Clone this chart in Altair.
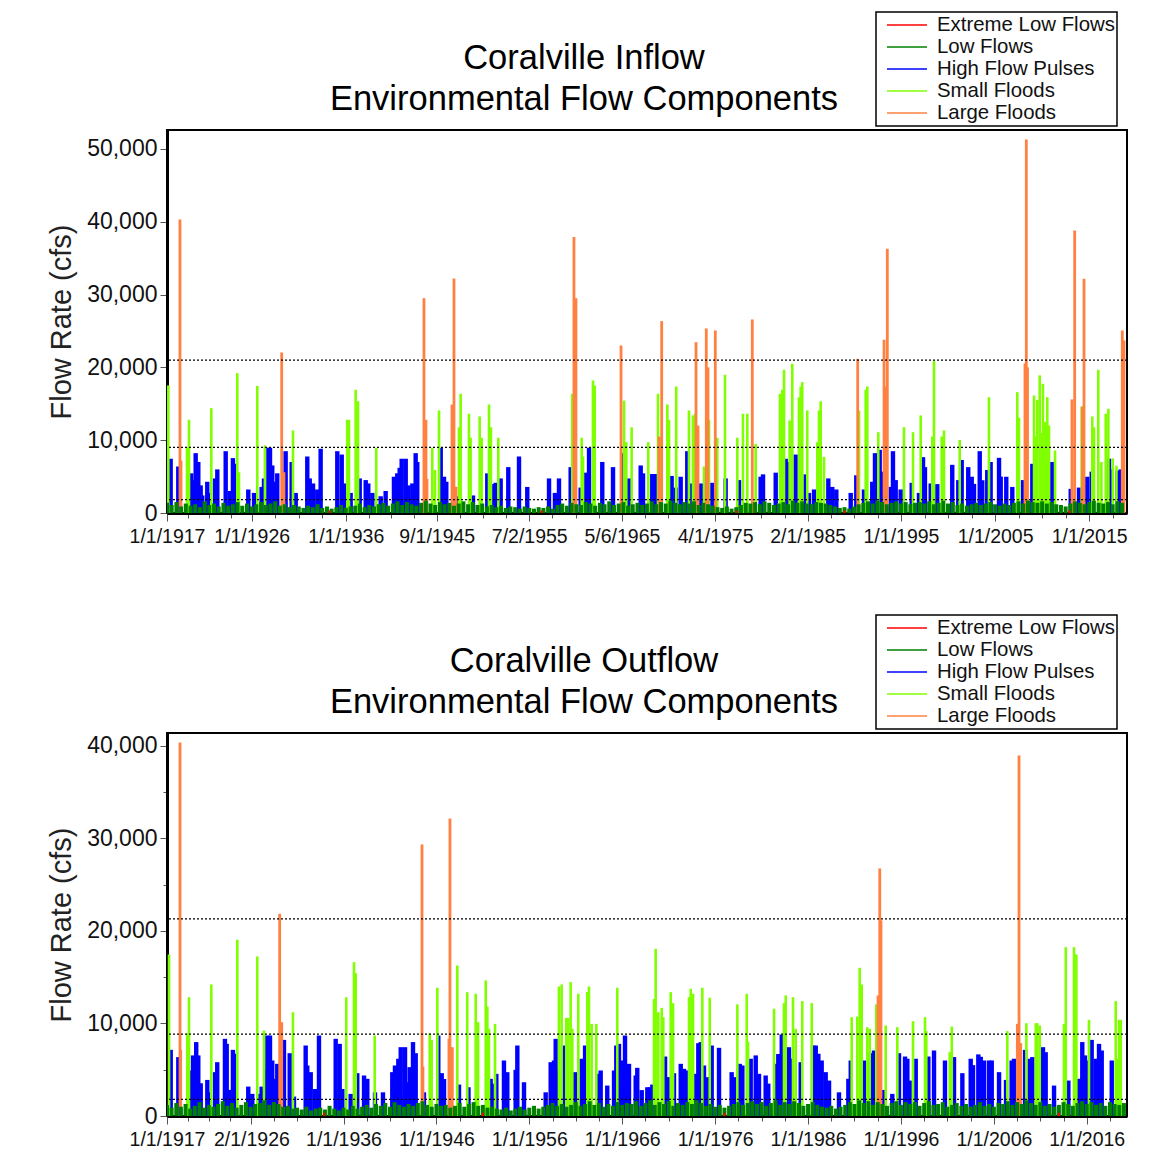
import altair as alt
import pandas as pd
from datetime import datetime, timezone

FONT = "Liberation Sans"
CATS = ["Extreme Low Flows", "Low Flows", "High Flow Pulses", "Small Floods", "Large Floods"]
COLORS = ["#FF0000", "#008000", "#0000FF", "#80FF00", "#FF8040"]

# ------------------------- Coralville Inflow -------------------------
IN_LARGE = [(1918.38, 40300), (1918.49, 7200), (1929.19, 22050), (1929.43, 5600), (1944.31, 29500),
            (1944.52, 12800), (1944.63, 4700), (1947.29, 14900), (1947.50, 32200), (1947.71, 3600),
            (1960.25, 37900), (1960.46, 29500), (1965.25, 23000), (1969.28, 10500), (1969.57, 26350),
            (1973.22, 23460), (1973.43, 12000), (1974.31, 25350), (1974.49, 20000), (1975.27, 25070),
            (1979.20, 26580), (1990.40, 21180), (1993.20, 23800), (1993.41, 17400), (1993.55, 36290),
            (2008.18, 20530), (2008.32, 51300), (2008.45, 20000), (2013.17, 15600), (2013.46, 38800),
            (2014.27, 14600), (2014.45, 32170), (2018.52, 25070), (2018.70, 23700)]
IN_SMALL = [(1917.14, 17520), (1919.13, 9000), (1919.34, 12800), (1921.71, 14400), (1924.47, 19210),
            (1924.65, 5600), (1926.60, 17450), (1927.41, 9275), (1930.39, 11340), (1936.16, 12800),
            (1936.34, 12800), (1937.05, 16920), (1937.30, 15350), (1939.24, 8960), (1945.19, 8960),
            (1945.48, 5900), (1945.91, 14080), (1948.03, 11780), (1948.21, 16370), (1949.09, 13630),
            (1949.27, 10330), (1950.23, 13260), (1950.44, 10330), (1951.22, 14900), (1951.43, 11780),
            (1952.21, 10330), (1960.07, 16370), (1961.07, 10330), (1961.21, 7760), (1962.27, 18200),
            (1962.45, 17520), (1965.57, 15440), (1965.81, 9730), (1966.38, 11780), (1968.15, 9730),
            (1969.18, 16370), (1969.39, 10420), (1970.17, 14900), (1970.35, 12800), (1971.12, 17370),
            (1972.47, 14080), (1972.90, 13400), (1973.11, 13630), (1974.07, 6390), (1974.60, 12800),
            (1975.48, 10330), (1976.30, 18990), (1977.61, 10330), (1978.21, 13630), (1978.67, 13630),
            (1979.56, 9500), (1982.14, 16370), (1982.39, 16920), (1982.57, 19670), (1983.17, 12700),
            (1983.45, 20500), (1984.16, 15900), (1984.34, 17370), (1984.51, 17970), (1985.04, 14080),
            (1986.11, 9730), (1986.29, 14080), (1986.47, 15350), (1986.82, 7700), (1990.54, 14080),
            (1991.25, 16920), (1991.42, 17370), (1992.59, 11100), (1995.32, 11780), (1996.28, 11100),
            (1997.10, 13400), (1998.33, 10500), (1998.51, 20860), (1999.33, 10500), (1999.57, 11340),
            (2001.24, 10030), (2004.35, 15900), (2007.36, 16600), (2007.54, 13080), (2009.14, 16140),
            (2009.30, 10500), (2009.49, 15540), (2009.74, 18900), (2009.90, 11000), (2010.09, 17750),
            (2010.30, 12500), (2010.55, 15900), (2010.73, 12020), (2011.37, 8590), (2014.20, 14630),
            (2015.33, 13260), (2015.51, 11780), (2015.97, 19670), (2016.30, 7000), (2016.76, 13630),
            (2017.04, 14310), (2017.50, 7500), (2017.90, 6500)]
IN_PULSE = [(1917.39, 7450), (1918.20, 6390), (1919.58, 5450), (1919.79, 4520), (1920.05, 8220),
            (1920.33, 7010), (1920.58, 3790), (1920.75, 2410), (1921.28, 4290), (1921.46, 2760),
            (1922.10, 4750), (1922.35, 5990), (1923.24, 8490), (1923.70, 3020), (1924.01, 7540),
            (1924.30, 6760), (1925.64, 3230), (1926.25, 2760), (1927.06, 3580), (1927.31, 4750),
            (1927.77, 8960), (1927.95, 8960), (1928.19, 6530), (1928.48, 4290), (1928.72, 5450),
            (1929.61, 8490), (1930.25, 7010), (1930.68, 2760), (1931.91, 7760), (1932.17, 4750),
            (1932.52, 4060), (1932.97, 3230), (1933.33, 8820), (1935.10, 8490), (1935.57, 8030),
            (1935.81, 4060), (1936.52, 2760), (1937.48, 4750), (1938.12, 4520), (1938.39, 4060),
            (1938.82, 2760), (1939.71, 2300), (1940.24, 3020), (1941.12, 4980), (1941.47, 5450),
            (1941.73, 6210), (1941.94, 7450), (1942.37, 7450), (1942.64, 3790), (1943.07, 4060),
            (1943.43, 8220), (1943.60, 7010), (1946.09, 8960), (1946.44, 4980), (1946.68, 4290),
            (1947.85, 2300), (1949.52, 2410), (1951.04, 5450), (1951.64, 3970), (1951.93, 4150),
            (1952.46, 4750), (1953.27, 6300), (1954.41, 7760), (1955.29, 3580), (1957.60, 4750),
            (1958.23, 2760), (1958.66, 4750), (1959.90, 6300), (1960.96, 3490), (1961.50, 5540),
            (1961.85, 8960), (1963.26, 7010), (1964.40, 6300), (1965.46, 8220), (1966.10, 4750),
            (1967.34, 6530), (1967.59, 5450), (1968.57, 5360), (1968.99, 5360), (1970.63, 5090),
            (1971.06, 3490), (1971.59, 4980), (1972.29, 8490), (1972.65, 4060), (1973.72, 4060),
            (1974.95, 4150), (1976.37, 4750), (1977.79, 4520), (1980.09, 4980), (1980.34, 5310),
            (1981.69, 5540), (1982.75, 7450), (1982.92, 7000), (1983.81, 8030), (1984.87, 5310),
            (1985.22, 2760), (1985.76, 3230), (1987.28, 4750), (1987.70, 3580), (1988.13, 3230),
            (1989.66, 2760), (1990.25, 5180), (1991.07, 3230), (1991.95, 4290), (1992.24, 8220),
            (1992.48, 8130), (1992.74, 8680), (1993.01, 5680), (1993.91, 3580), (1994.15, 8490),
            (1994.44, 4520), (1994.97, 3230), (1996.14, 4150), (1996.91, 2760), (1997.34, 7670),
            (1997.55, 6300), (1998.16, 4060), (1998.86, 3970), (2000.45, 6620), (2001.09, 4520),
            (2001.45, 7280), (2002.15, 6300), (2002.52, 4980), (2002.76, 4000), (2003.37, 8490),
            (2003.64, 4500), (2004.17, 5900), (2004.53, 7010), (2005.42, 7580), (2005.60, 5000),
            (2006.19, 4980), (2006.83, 3580), (2007.97, 4520), (2008.96, 6760), (2011.08, 7010),
            (2013.04, 3320), (2013.92, 3490), (2014.80, 4980), (2015.27, 5680), (2017.11, 7450),
            (2017.39, 6000), (2017.99, 5820), (2018.35, 5990)]
IN_LOW_START = 1917.0   # one value every half year
IN_LOW = [1400, 1100, 1500, 900, 1300, 1000, 1200, 800, 1600, 1100, 1300, 900, 1400, 1000, 1200, 1500, 1000, 1300, 900, 1200,
          1500, 1100, 1300, 1600, 1000, 1200, 800, 1100, 900, 700, 1000, 800, 1200, 700, 900, 600, 800, 1100, 700, 900,
          1000, 1300, 800, 1100, 900, 1200, 1400, 1000, 1300, 1600, 1100, 1500, 1200, 1000, 1400, 1700, 1300, 1100, 1500, 1200,
          1400, 1000, 1300, 1600, 1200, 1500, 1100, 1300, 900, 1100, 800, 1000, 700, 900, 800, 600, 900, 700, 600, 800,
          700, 900, 600, 1100, 1300, 1000, 1400, 1200, 1100, 1500, 1300, 1000, 1400, 1200, 1600, 1100, 1300, 1500, 1000, 1200,
          1400, 1100, 1300, 1600, 1200, 1500, 1300, 1700, 1400, 1200, 1500, 1300, 1600, 1100, 1400, 1200, 1000, 800, 700, 900,
          600, 800, 1100, 1400, 1300, 1500, 1200, 1600, 1400, 1100, 1300, 1500, 1200, 1700, 1400, 1600, 1300, 1200, 1500, 1400,
          1300, 1100, 900, 700, 800, 600, 900, 1200, 1400, 1600, 1300, 1700, 1500, 1200, 1400, 1600, 1300, 1500, 1200, 1400,
          1500, 1300, 1600, 1200, 1400, 1700, 1300, 1500, 1100, 1300, 1000, 1200, 1400, 1100, 1300, 1500, 1200, 1000, 1300, 1100,
          1400, 1600, 1300, 1700, 1500, 1400, 1600, 1300, 1500, 1200, 1100, 900, 1300, 1600, 1400, 1200, 1500, 1700, 1400, 1300,
          1500, 1200, 1600, 1400]
IN_EXTREME = [(1934.3, 350), (1956.8, 350), (1977.5, 350), (1989.0, 350), (2012.9, 350)]
IN_THRESH = [21000, 9000, 1850]
IN_TICKS = ["1917-01-01", "1926-01-01", "1936-01-01", "1945-09-01", "1955-07-02", "1965-05-06",
            "1975-04-01", "1985-02-01", "1995-01-01", "2005-01-01", "2015-01-01"]
IN_XDOMAIN = ["1917-01-01", "2019-01-08"]
IN_YMAX = 52600

# ------------------------- Coralville Outflow -------------------------
OUT_LARGE = [(1918.40, 40380), (1918.47, 7150), (1929.13, 21860), (1929.35, 10140), (1944.45, 29350),
             (1944.55, 5350), (1947.35, 8340), (1947.46, 32160), (1947.71, 7440), (1993.53, 13030),
             (1993.72, 26760), (1993.85, 21140), (2008.53, 9960), (2008.71, 38970), (2008.89, 7880)]
OUT_SMALL = [(1917.22, 17460), (1919.19, 8950), (1919.37, 12840), (1921.77, 14220), (1924.57, 19050),
             (1926.72, 17240), (1927.44, 9240), (1930.56, 11220), (1936.30, 12840), (1937.13, 16630),
             (1937.31, 15440), (1939.36, 8700), (1945.28, 8950), (1945.49, 8220), (1946.10, 13860),
             (1948.25, 16270), (1949.32, 13390), (1950.23, 13210), (1950.48, 10140), (1951.31, 14650),
             (1951.48, 11840), (1951.66, 9420), (1952.31, 9960), (1959.19, 14000), (1959.48, 14220),
             (1959.98, 10600), (1960.20, 10600), (1960.45, 14470), (1960.63, 9420), (1961.27, 13210),
             (1962.24, 13390), (1962.42, 14000), (1962.71, 9960), (1963.21, 9960), (1965.47, 13860),
             (1969.42, 12660), (1969.60, 18070), (1969.88, 11220), (1970.25, 11690), (1970.42, 10680),
             (1971.22, 13390), (1971.47, 12200), (1973.19, 12840), (1973.37, 13750), (1973.62, 13210),
             (1974.62, 13860), (1975.42, 12780), (1978.39, 12060), (1979.40, 13210), (1979.54, 8040),
             (1982.34, 11590), (1983.41, 12200), (1983.60, 13030), (1984.38, 12840), (1984.67, 9420),
             (1985.38, 12420), (1986.40, 12200), (1990.70, 10680), (1991.30, 10750), (1991.56, 16020),
             (1991.78, 14220), (1992.38, 9600), (1992.64, 9420), (1993.35, 12060), (1994.36, 9780),
             (1995.61, 9600), (1997.30, 10250), (1998.59, 10680), (1998.73, 9170), (2001.25, 6900),
             (2001.47, 9670), (2007.45, 9170), (2009.50, 10030), (2010.51, 10030), (2010.68, 10030),
             (2010.94, 9780), (2013.55, 9960), (2013.74, 18250), (2014.63, 18250), (2014.88, 17460),
             (2016.24, 10390), (2019.12, 12420), (2019.30, 6200), (2019.48, 10390), (2019.66, 10390)]
OUT_PULSE = [(1917.40, 7150), (1918.22, 6370), (1919.55, 4920), (1919.80, 6550), (1920.15, 7990),
             (1920.37, 6550), (1920.63, 3540), (1921.34, 3900), (1921.52, 2560), (1922.17, 4740),
             (1922.41, 5820), (1923.24, 8340), (1923.43, 7800), (1923.78, 2820), (1924.10, 7150),
             (1924.39, 6730), (1925.75, 3180), (1926.18, 2390), (1926.98, 2390), (1927.19, 3180),
             (1927.62, 4920), (1927.80, 8700), (1928.09, 8700), (1928.33, 6000), (1928.63, 4020),
             (1928.87, 5640), (1929.59, 8230), (1930.21, 6790), (1930.67, 2100), (1931.93, 7620),
             (1932.10, 5460), (1932.47, 4740), (1932.93, 2920), (1933.36, 8700), (1935.16, 8340),
             (1935.59, 7800), (1935.87, 2920), (1936.77, 2390), (1937.48, 4630), (1938.21, 4380),
             (1938.56, 4020), (1939.39, 2560), (1940.25, 2560), (1941.25, 4740), (1941.54, 5460),
             (1941.90, 6190), (1942.16, 7440), (1942.62, 7440), (1942.87, 3650), (1943.12, 5280),
             (1943.48, 7990), (1943.77, 6790), (1944.66, 2560), (1946.20, 8700), (1946.57, 4630),
             (1946.82, 4000), (1948.43, 3400), (1949.45, 3110), (1951.84, 4020), (1952.02, 3500),
             (1952.45, 4560), (1953.27, 6000), (1953.63, 4740), (1954.53, 4990), (1954.71, 7620),
             (1955.43, 3650), (1957.76, 2560), (1958.30, 5820), (1958.66, 6000), (1958.84, 8340),
             (1959.01, 5000), (1959.63, 7620), (1960.92, 4740), (1961.64, 6190), (1962.00, 7620),
             (1963.43, 4560), (1963.68, 4920), (1964.39, 3290), (1965.12, 4920), (1965.36, 7620),
             (1965.65, 7800), (1966.08, 6000), (1966.30, 8700), (1966.55, 5280), (1966.73, 5640),
             (1967.45, 4380), (1967.62, 5210), (1968.10, 2800), (1968.70, 3110), (1968.96, 3110),
             (1969.24, 3400), (1970.61, 6430), (1970.85, 4200), (1971.11, 4200), (1971.57, 4630),
             (1972.30, 5640), (1972.65, 5100), (1973.01, 4920), (1973.91, 4560), (1974.19, 7870),
             (1974.45, 7990), (1974.80, 5460), (1975.16, 4200), (1975.63, 7620), (1976.42, 7370),
             (1977.78, 4740), (1978.03, 4200), (1978.65, 5640), (1978.93, 5460), (1979.83, 6190),
             (1980.37, 6550), (1980.72, 4560), (1981.44, 4380), (1981.72, 3500), (1982.52, 5640),
             (1982.80, 6700), (1983.17, 8810), (1983.95, 7440), (1984.24, 6200), (1985.21, 5820),
             (1986.54, 7620), (1986.83, 7620), (1987.11, 6730), (1987.47, 6000), (1987.90, 4740),
             (1988.26, 3830), (1989.33, 2560), (1990.34, 4020), (1990.60, 6000), (1992.13, 6000),
             (1992.75, 6790), (1993.10, 7080), (1994.07, 2820), (1995.07, 2390), (1995.79, 6790),
             (1996.44, 6430), (1996.69, 6190), (1996.94, 3830), (1997.59, 6190), (1998.95, 6430),
             (1999.56, 7080), (2000.74, 6000), (2001.71, 6370), (2002.61, 4630), (2003.51, 6190),
             (2003.76, 5500), (2004.33, 6660), (2004.59, 6400), (2004.94, 6000), (2005.48, 6000),
             (2005.77, 6000), (2006.56, 4740), (2007.31, 3900), (2007.92, 6000), (2008.17, 6190),
             (2009.36, 7150), (2009.86, 6190), (2010.14, 6370), (2011.29, 7440), (2011.58, 6900),
             (2012.48, 3290), (2014.02, 3830), (2015.17, 4020), (2015.52, 7990), (2015.81, 6550),
             (2016.15, 6000), (2016.53, 8230), (2016.97, 6190), (2017.32, 7800), (2017.61, 7080),
             (2018.69, 6000)]
OUT_LOW_START = 1917.0   # one value every half year
OUT_LOW = [1200, 900, 1400, 1000, 1300, 800, 1100, 1500, 900, 1200, 1000, 1300, 1600, 1100, 1400, 900, 1200, 1500, 1000, 1300,
           1400, 1700, 1200, 1500, 1300, 1000, 1100, 800, 900, 700, 1000, 600, 800, 900, 700, 1100, 800, 600, 900, 700,
           1100, 800, 1000, 1200, 900, 1300, 1100, 1400, 1000, 1500, 1200, 1000, 1300, 1100, 1400, 1600, 1200, 1000, 1300, 1100,
           1200, 900, 1100, 1400, 1000, 1300, 1500, 1100, 1200, 900, 1000, 800, 700, 900, 600, 800, 1000, 700, 900, 1100,
           800, 1000, 1200, 1400, 1100, 1300, 1000, 1200, 1500, 1100, 1300, 1600, 1200, 1400, 1000, 1300, 1100, 1500, 1200, 1400,
           1300, 1600, 1100, 1400, 1700, 1200, 1500, 1300, 1600, 1100, 1400, 1200, 1500, 1300, 1700, 1400, 1100, 1300, 1000, 1200,
           900, 1100, 1300, 1500, 1200, 1400, 1600, 1300, 1500, 1100, 1400, 1700, 1200, 1500, 1300, 1600, 1400, 1100, 1300, 1500,
           1200, 1000, 900, 1100, 800, 1000, 1200, 1500, 1300, 1700, 1400, 1600, 1200, 1500, 1300, 1100, 1400, 1600, 1200, 1500,
           1300, 1500, 1100, 1400, 1600, 1200, 1300, 1500, 1000, 1200, 1400, 1100, 1300, 1000, 1200, 1500, 1100, 1300, 1000, 1400,
           1300, 1600, 1200, 1500, 1300, 1700, 1400, 1200, 1500, 1100, 1300, 1000, 1200, 1500, 1300, 1100, 1400, 1600, 1300, 1500,
           1200, 1400, 1100, 1500, 1300, 1200, 1400]
OUT_EXTREME = [(1933.9, 350), (1951.0, 350), (1977.0, 350), (2013.0, 350)]
OUT_THRESH = [21300, 8850, 1800]
OUT_TICKS = ["1917-01-01", "1926-02-01", "1936-01-01", "1946-01-01", "1956-01-01", "1966-01-01",
             "1976-01-01", "1986-01-01", "1996-01-01", "2006-01-01", "2016-01-01"]
OUT_XDOMAIN = ["1917-01-01", "2020-05-01"]
OUT_YMAX = 41400


def dec_to_date(y):
    yr = int(y)
    start, end = datetime(yr, 1, 1), datetime(yr + 1, 1, 1)
    return (start + (end - start) * (y - yr)).strftime("%Y-%m-%d")


def ms(s):
    d = datetime.strptime(s, "%Y-%m-%d").replace(tzinfo=timezone.utc)
    return int(d.timestamp() * 1000)


def frame(pulse, small, large, low_start, low, extreme):
    rows = []
    for cat, series, sw in [("High Flow Pulses", pulse, 4.4), ("Small Floods", small, 2.6),
                            ("Large Floods", large, 2.8)]:
        for y, v in series:
            rows.append({"date": dec_to_date(y), "flow": v, "component": cat, "sw": sw})
    for i, v in enumerate(low):
        rows.append({"date": dec_to_date(low_start + 0.5 * i), "flow": v, "component": "Low Flows", "sw": 4.0})
    for y, v in extreme:
        rows.append({"date": dec_to_date(y), "flow": v, "component": "Extreme Low Flows", "sw": 2.0})
    return pd.DataFrame(rows)


def panel(df, thresh, ticks, xdomain, ymax, title_lines):
    major = [ms(t) for t in ticks]
    dom = [ms(d) for d in xdomain]
    minor = []
    for a, b in zip(major[:-1], major[1:]):
        for k in (1, 2, 3):
            minor.append(a + (b - a) * k // 4)
    extra = major[-1] + (major[-1] - major[-2]) // 4
    if extra < dom[1]:
        minor.append(extra)
    tick_vals = sorted(major + minor)
    is_major = "indexof([" + ",".join(str(v) for v in major) + "], toNumber(datum.value)) >= 0"

    xaxis = alt.Axis(values=tick_vals,
                     labelExpr=is_major + " ? utcFormat(datum.value, '%-m/%-d/%Y') : ''",
                     tickSize={"condition": {"test": is_major, "value": 8}, "value": 5},
                     labelFontSize=19.5, labelFont=FONT, labelColor="#111", labelPadding=6,
                     labelFlush=False, labelOverlap=False, domainColor="black", domainWidth=3,
                     tickColor="#555", tickWidth=1, grid=False, title=None)
    yvals = list(range(0, (ymax // 2500) * 2500 + 1, 2500))
    yaxis = alt.Axis(values=yvals,
                     labelExpr="datum.value % 10000 === 0 ? format(datum.value, ',') : ''",
                     tickSize={"condition": {"test": "datum.value % 10000 === 0", "value": 7}, "value": 4},
                     labelFontSize=23, labelFont=FONT, labelColor="#111", labelPadding=3,
                     labelOverlap=False, domainColor="black", domainWidth=3,
                     tickColor="#555", tickWidth=1, grid=False,
                     title="Flow Rate (cfs)", titleFontSize=29, titleFont=FONT,
                     titleFontWeight="normal", titleColor="#222", titlePadding=10)
    xscale = alt.Scale(type="utc", domain=dom)
    yscale = alt.Scale(domain=[0, ymax], nice=False, zero=True)
    legend = alt.Legend(title=None, orient="none", legendX=709, legendY=-118, direction="vertical",
                        symbolType="M-1,0H3", symbolSize=400, symbolStrokeWidth=1.5, symbolOffset=8,
                        labelFontSize=20.4, labelFont=FONT, labelColor="#111", labelOffset=29,
                        labelLimit=300, rowPadding=0, padding=2,
                        strokeColor="black", fillColor="white")

    rules = alt.Chart(df).mark_rule(clip=True).encode(
        x=alt.X("date:T", scale=xscale, axis=xaxis),
        y=alt.Y("flow:Q", scale=yscale, axis=yaxis),
        y2=alt.datum(0),
        color=alt.Color("component:N", scale=alt.Scale(domain=CATS, range=COLORS), legend=legend),
        strokeWidth=alt.StrokeWidth("sw:Q", scale=None, legend=None),
    )
    th = alt.Chart(pd.DataFrame({"flow": thresh})).mark_rule(
        color="black", strokeDash=[2, 2], strokeWidth=1.2).encode(y=alt.Y("flow:Q"))
    return alt.layer(rules, th).properties(
        width=960, height=383,
        title=alt.TitleParams(text=title_lines, fontSize=34.5, font=FONT, fontWeight="normal",
                              color="black", anchor="middle", lineHeight=41, offset=-106, dx=-63))


top = panel(frame(IN_PULSE, IN_SMALL, IN_LARGE, IN_LOW_START, IN_LOW, IN_EXTREME),
            IN_THRESH, IN_TICKS, IN_XDOMAIN, IN_YMAX,
            ["Coralville Inflow", "Environmental Flow Components"])
bottom = panel(frame(OUT_PULSE, OUT_SMALL, OUT_LARGE, OUT_LOW_START, OUT_LOW, OUT_EXTREME),
               OUT_THRESH, OUT_TICKS, OUT_XDOMAIN, OUT_YMAX,
               ["Coralville Outflow", "Environmental Flow Components"])

chart = alt.vconcat(top, bottom, spacing=66).resolve_scale(
    x="independent", y="independent", color="independent"
).resolve_legend(color="independent").configure_view(
    stroke="black", strokeWidth=2
).configure_legend(strokeWidth=1.5).properties(
    padding={"left": 38, "top": 2, "right": 5, "bottom": 5}, background="white")

chart.save("out.html", embed_options={"renderer": "svg", "actions": False})
